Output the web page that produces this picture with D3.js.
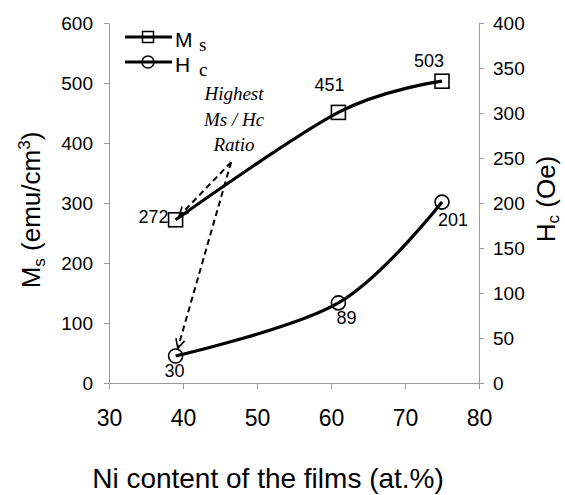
<!DOCTYPE html>
<html>
<head>
<meta charset="utf-8">
<script src="https://cdn.jsdelivr.net/npm/d3@7"></script>
<style>
  body { margin: 0; background: #fff; }
  svg { display: block; }
  text { font-family: "Liberation Sans", Arial, sans-serif; fill: #000; }
</style>
</head>
<body>
<svg id="chart" width="565" height="495"></svg>
<script>
// data
var niContent = [39, 61, 75];
var msValues = [272, 451, 503];
var hcValues = [30, 89, 201];
var xTicks = [30, 40, 50, 60, 70, 80];
var msTicks = [0, 100, 200, 300, 400, 500, 600];
var hcTicks = [0, 50, 100, 150, 200, 250, 300, 350, 400];
var noteLines = ["Highest", "Ms / Hc", "Ratio"];
var noteAnchor = [46.5, 368]; // (at.%, Ms units) where the two arrows start

// label offsets in px from each point
var msLabelOff = [[-7, 3, "end"], [-9, -21, "middle"], [-13, -14, "middle"]];
var hcLabelOff = [[-1, 21, "middle"], [8, 21, "middle"], [11, 24, "middle"]];

var svg = d3.select("#chart");
var plotL = 109, plotR = 479, plotT = 23, plotB = 383;

var x = d3.scaleLinear().domain([30, 80]).range([plotL, plotR]);
var yMs = d3.scaleLinear().domain([0, 600]).range([plotB, plotT]);
var yHc = d3.scaleLinear().domain([0, 400]).range([plotB, plotT]);

function styleAxis(g, fs) {
	g.selectAll("path, line").attr("stroke", "#9a9a9a").attr("stroke-width", 1);
	g.selectAll("text").style("font-size", fs + "px").attr("fill", "#000");
}

svg.append("g")
	.attr("transform", "translate(0," + plotB + ")")
	.call(d3.axisBottom(x).tickValues(xTicks).tickSize(6).tickSizeOuter(0).tickPadding(21))
	.call(styleAxis, 23);

svg.append("g")
	.attr("transform", "translate(" + plotL + ",0)")
	.call(d3.axisLeft(yMs).tickValues(msTicks).tickSize(5).tickSizeOuter(0).tickPadding(11))
	.call(styleAxis, 19);

svg.append("g")
	.attr("transform", "translate(" + plotR + ",0)")
	.call(d3.axisRight(yHc).tickValues(hcTicks).tickSize(5).tickSizeOuter(0).tickPadding(9))
	.call(styleAxis, 19);

// axis titles
svg.append("text")
	.attr("x", 268).attr("y", 488)
	.attr("text-anchor", "middle")
	.style("font-size", "28px")
	.text("Ni content of the films (at.%)");

var tl = svg.append("text")
	.attr("transform", "translate(40,210) rotate(-90)")
	.attr("text-anchor", "middle")
	.style("font-size", "26px");
tl.append("tspan").text("M");
tl.append("tspan").attr("dy", 5).style("font-size", "17px").text("s");
tl.append("tspan").attr("dy", -5).text(" (emu/cm");
tl.append("tspan").attr("dy", -10).style("font-size", "17px").text("3");
tl.append("tspan").attr("dy", 10).text(")");

var tr = svg.append("text")
	.attr("transform", "translate(555,199) rotate(-90)")
	.attr("text-anchor", "middle")
	.style("font-size", "26px");
tr.append("tspan").text("H");
tr.append("tspan").attr("dy", 4).style("font-size", "17px").text("c");
tr.append("tspan").attr("dy", -4).text(" (Oe)");

// series
var msData = niContent.map(function(d, i) { return [d, msValues[i]]; });
var hcData = niContent.map(function(d, i) { return [d, hcValues[i]]; });

var lineMs = d3.line().x(function(d) { return x(d[0]); }).y(function(d) { return yMs(d[1]); })
	.curve(d3.curveCardinal.tension(0));
var lineHc = d3.line().x(function(d) { return x(d[0]); }).y(function(d) { return yHc(d[1]); })
	.curve(d3.curveCardinal.tension(0));

svg.append("path").attr("d", lineMs(msData))
	.attr("fill", "none").attr("stroke", "#000").attr("stroke-width", 3.2);
svg.append("path").attr("d", lineHc(hcData))
	.attr("fill", "none").attr("stroke", "#000").attr("stroke-width", 3.2);

svg.selectAll(".msPt").data(msData).enter().append("rect")
	.attr("class", "msPt")
	.attr("x", function(d) { return x(d[0]) - 7; })
	.attr("y", function(d) { return yMs(d[1]) - 7; })
	.attr("width", 14).attr("height", 14)
	.attr("fill", "none").attr("stroke", "#000").attr("stroke-width", 1.6);

svg.selectAll(".hcPt").data(hcData).enter().append("circle")
	.attr("class", "hcPt")
	.attr("cx", function(d) { return x(d[0]); })
	.attr("cy", function(d) { return yHc(d[1]); })
	.attr("r", 7)
	.attr("fill", "none").attr("stroke", "#000").attr("stroke-width", 1.6);

// data labels
svg.selectAll(".msLab").data(msData).enter().append("text")
	.attr("class", "msLab")
	.attr("x", function(d, i) { return x(d[0]) + msLabelOff[i][0]; })
	.attr("y", function(d, i) { return yMs(d[1]) + msLabelOff[i][1]; })
	.attr("text-anchor", function(d, i) { return msLabelOff[i][2]; })
	.style("font-size", "18px")
	.text(function(d) { return d[1]; });

svg.selectAll(".hcLab").data(hcData).enter().append("text")
	.attr("class", "hcLab")
	.attr("x", function(d, i) { return x(d[0]) + hcLabelOff[i][0]; })
	.attr("y", function(d, i) { return yHc(d[1]) + hcLabelOff[i][1]; })
	.attr("text-anchor", function(d, i) { return hcLabelOff[i][2]; })
	.style("font-size", "18px")
	.text(function(d) { return d[1]; });

// annotation
svg.append("defs").append("marker")
	.attr("id", "vhead")
	.attr("viewBox", "-11 -6 13 12")
	.attr("markerUnits", "userSpaceOnUse")
	.attr("markerWidth", 13).attr("markerHeight", 12)
	.attr("refX", 0).attr("refY", 0)
	.attr("orient", "auto")
	.append("path")
	.attr("d", "M-9,-4.5L0,0L-9,4.5")
	.attr("fill", "none").attr("stroke", "#000").attr("stroke-width", 1.6)
	.attr("stroke-dasharray", "none");

svg.selectAll(".note").data(noteLines).enter().append("text")
	.attr("class", "note")
	.attr("x", 234)
	.attr("y", function(d, i) { return 100 + i * 25.5; })
	.attr("text-anchor", "middle")
	.style("font-family", "'Liberation Serif', 'Times New Roman', serif")
	.style("font-style", "italic")
	.style("font-size", "19px")
	.text(function(d) { return d; });

var ax = x(noteAnchor[0]), ay = yMs(noteAnchor[1]);
var targets = [[x(niContent[0]), yMs(msValues[0]), 5], [x(niContent[0]), yHc(hcValues[0]), 8]];
targets.forEach(function(t) {
	var dx = ax - t[0], dy = ay - t[1], len = Math.sqrt(dx * dx + dy * dy);
	svg.append("line")
		.attr("x1", ax).attr("y1", ay)
		.attr("x2", t[0] + dx / len * t[2]).attr("y2", t[1] + dy / len * t[2])
		.attr("stroke", "#000").attr("stroke-width", 2)
		.attr("stroke-dasharray", "6,4")
		.attr("marker-end", "url(#vhead)");
});

// legend
var legend = svg.append("g");
var legRows = [{ y: 37, name: "M", sub: "s", shape: "square" }, { y: 62, name: "H", sub: "c", shape: "circle" }];
legRows.forEach(function(r) {
	legend.append("line").attr("x1", 125).attr("x2", 172).attr("y1", r.y).attr("y2", r.y)
		.attr("stroke", "#000").attr("stroke-width", 3.2);
	if (r.shape === "square") {
		legend.append("rect").attr("x", 142.5).attr("y", r.y - 5.5).attr("width", 11).attr("height", 11)
			.attr("fill", "none").attr("stroke", "#000").attr("stroke-width", 1.5);
	} else {
		legend.append("circle").attr("cx", 148).attr("cy", r.y).attr("r", 6)
			.attr("fill", "none").attr("stroke", "#000").attr("stroke-width", 1.5);
	}
	legend.append("text").attr("x", 175).attr("y", r.y + 10).style("font-size", "21px").text(r.name);
	legend.append("text").attr("x", 199).attr("y", r.y + 14)
		.style("font-family", "'Liberation Serif', 'Times New Roman', serif")
		.style("font-size", "19px").text(r.sub);
});
</script>
</body>
</html>
